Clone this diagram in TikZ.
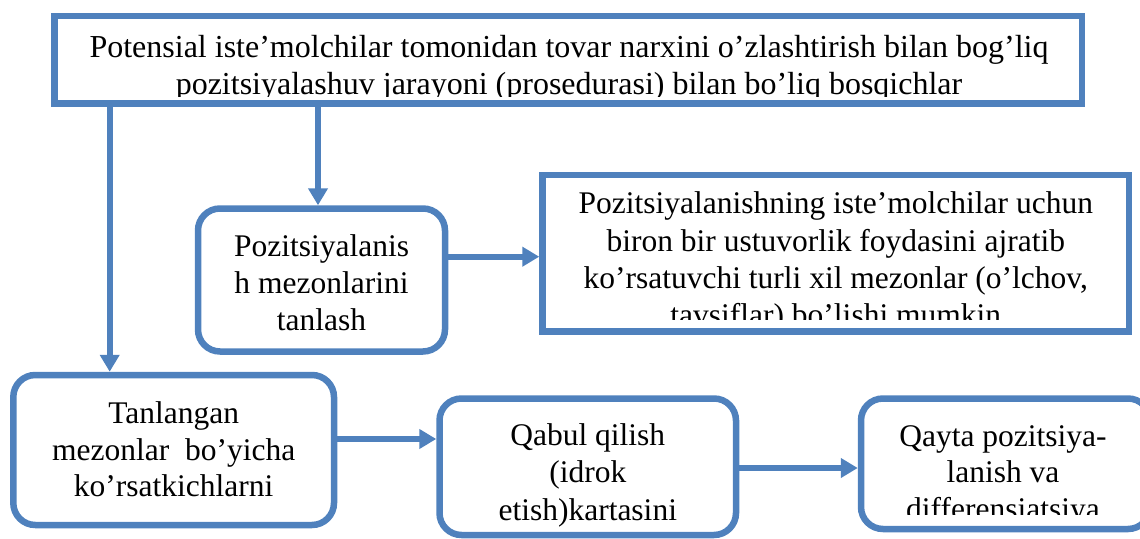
\documentclass[tikz,border=0pt]{standalone}
\usepackage{fontspec}
\setmainfont{Liberation Serif}
\usetikzlibrary{arrows.meta}
\definecolor{boxblue}{RGB}{79,129,189}
\begin{document}
\begin{tikzpicture}[x=1pt,y=-1pt,
  box/.style={draw=boxblue, line width=6.5pt, inner sep=0pt},
  roundbox/.style={box, rounded corners=22pt},
  link/.style={draw=boxblue, line width=6pt, -{Triangle[length=17pt,width=19pt]}},
  txt/.style={anchor=base, inner sep=0pt, font=\fontsize{31.5}{36.7}\selectfont},
  headtxt/.style={txt, font=\fontsize{32}{37}\selectfont}]
\clip (0,0) rectangle (1140,538);

% boxes
\node[box, minimum width=1027.5pt, minimum height=87.5pt] (top) at (568.25,59.75) {};
\node[roundbox, minimum width=247pt, minimum height=143pt] (pz) at (321.5,280) {};
\node[box, minimum width=586.5pt, minimum height=156.5pt] (cr) at (835.75,253.25) {};
\node[roundbox, minimum width=320.7pt, minimum height=150pt] (tl) at (173.65,450) {};
\node[roundbox, minimum width=296.5pt, minimum height=136.5pt] (qb) at (587.75,466.75) {};
\node[roundbox, minimum width=289pt, minimum height=130.5pt] (qy) at (1005.5,463.75) {};

% texts (the overflowing last lines are cut at the text area)
\begin{scope}
  \clip (0,0) rectangle (1140,96.5);
  \node[headtxt] (top1) at (569,57) {Potensial iste’molchilar tomonidan tovar narxini o’zlashtirish bilan bog’liq};
  \node[headtxt] (top2) at (569,94) {pozitsiyalashuv jarayoni (prosedurasi) bilan bo’liq bosqichlar};
\end{scope}

\node[txt] (pz1) at (321.5,256.5) {Pozitsiyalanis};
\node[txt] (pz2) at (321.5,293.3) {h mezonlarini};
\node[txt] (pz3) at (321.5,330) {tanlash};

\begin{scope}
  \clip (540,170) rectangle (1140,319);
  \node[txt] (cr1) at (835.75,213.5) {Pozitsiyalanishning iste’molchilar uchun};
  \node[txt] (cr2) at (835.75,251) {biron bir ustuvorlik foydasini ajratib};
  \node[txt] (cr3) at (835.75,288) {ko’rsatuvchi turli xil mezonlar (o’lchov,};
  \node[txt] (cr4) at (835.75,325) {tavsiflar) bo’lishi mumkin};
\end{scope}

\node[txt] (tl1) at (173.65,423.3) {Tanlangan};
\node[txt] (tl2) at (173.65,460) {mezonlar\ \ bo’yicha};
\node[txt] (tl3) at (173.65,496.7) {ko’rsatkichlarni};

\node[txt] (qb1) at (587.75,445) {Qabul qilish};
\node[txt] (qb2) at (587.75,482.5) {(idrok};
\node[txt] (qb3) at (587.75,520) {etish)kartasini};

\begin{scope}
  \clip (860,390) rectangle (1140,514);
  \node[txt] (qy1) at (1003,446) {Qayta pozitsiya-};
  \node[txt] (qy2) at (1003,482.5) {lanish va};
  \node[txt] (qy3) at (1003,519) {differensiatsiya};
\end{scope}

% connector tracks
\coordinate (xa) at (109.7,0);
\coordinate (xb) at (318,0);
\coordinate (ya) at (0,256.7);
\coordinate (yb) at (0,439);
\coordinate (yc) at (0,468);

% connectors
\draw[link] (xa |- top.south) -- (xa |- tl.north);
\draw[link] (xb |- top.south) -- (xb |- pz.north);
\draw[link] (pz.east |- ya) -- (cr.west |- ya);
\draw[link] (tl.east |- yb) -- (qb.west |- yb);
\draw[link] (qb.east |- yc) -- (qy.west |- yc);
\end{tikzpicture}
\end{document}
